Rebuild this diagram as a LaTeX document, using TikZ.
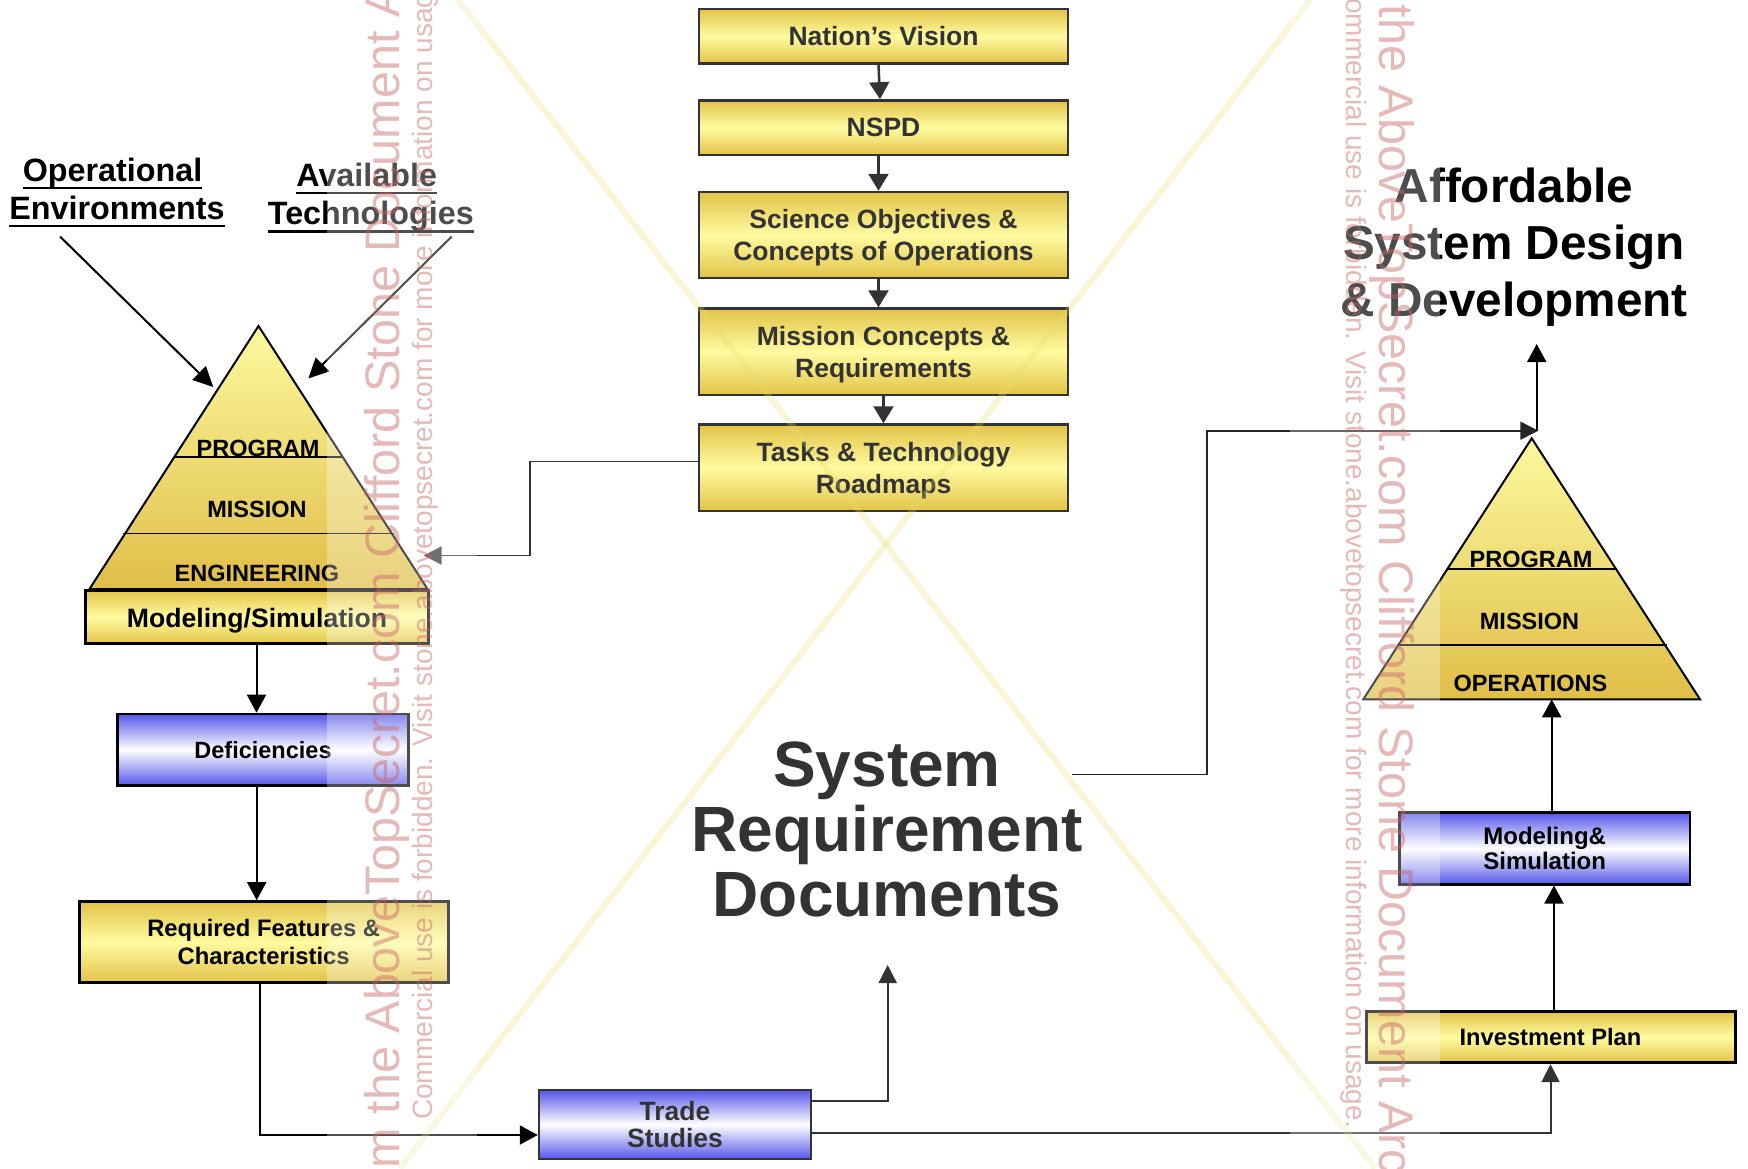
\documentclass[tikz,border=0pt]{standalone}
\usepackage{fontspec}
\setmainfont{Liberation Sans}
\usetikzlibrary{arrows.meta}
\definecolor{gold}{RGB}{226,195,72}
\definecolor{lyel}{RGB}{255,251,160}
\definecolor{pyrtop}{RGB}{252,249,158}
\definecolor{pyrbot}{RGB}{224,190,72}
\definecolor{bblue}{RGB}{86,86,234}
\definecolor{dgray}{RGB}{51,51,51}
\definecolor{wmred}{RGB}{200,100,100}
\definecolor{xyel}{RGB}{232,222,110}
\newcommand\myup[1]{\rule{0pt}{#1}}
\newcommand\mydn[1]{\rule[-#1]{0pt}{#1}}
\begin{document}
\begin{tikzpicture}[x=1pt,y=-1pt,
  cbox/.style={draw=dgray, line width=2.5pt, top color=gold, bottom color=gold, middle color=lyel,
    minimum width=369pt, inner sep=0pt, align=center, text=dgray, font=\bfseries\fontsize{26.5}{32}\selectfont},
  kbox/.style={draw=black, line width=3pt, top color=gold, bottom color=gold, middle color=lyel,
    inner sep=0pt, align=center, text=black},
  bbox/.style={draw=black, line width=2.5pt, top color=bblue, bottom color=bblue, middle color=white,
    inner sep=0pt, align=center, text=black},
  ttl/.style={font=\bfseries\fontsize{32.3}{36}\selectfont, inner sep=0pt, anchor=base},
  pyl/.style={font=\bfseries\fontsize{23.5}{28}\selectfont, inner sep=0pt, anchor=base},
  karr/.style={-{Triangle[length=18pt,width=19pt]}, line width=2pt, draw=black},
  carr/.style={-{Triangle[length=17pt,width=20pt]}, line width=2.5pt, draw=dgray},
  tarr/.style={-{Triangle[length=18pt,width=18pt]}, line width=1.8pt, draw=dgray},
  wm/.style={text=wmred, text opacity=0.45, inner sep=0pt, font=\fontsize{#1}{#1}\selectfont}
]
\useasboundingbox (0,0) rectangle (1748,1168);
\fill[white] (0,0) rectangle (1748,1168);
\clip (0,0) rectangle (1748,1168);

% ---------- left pyramid ----------
\coordinate (la) at (258.5,326);
\coordinate (lr) at (427.5,589);
\coordinate (ll) at (89.5,589);
\shade[top color=pyrtop, bottom color=pyrbot] (la) -- (lr) -- (ll) -- cycle;
\draw[line width=2pt] (la) -- (lr) -- (ll) -- cycle;
\draw[line width=1.5pt] (174,457.2) -- (343,457.2);
\draw[line width=1.5pt] (122.5,533.3) -- (393.5,533.3);
\node[pyl] (lprog) at (258,456) {PROGRAM};
\node[pyl] (lmis) at (257,517.8) {MISSION};
\node[pyl] (leng) at (257,581.3) {ENGINEERING};

% ---------- right pyramid ----------
\coordinate (ra) at (1531.7,438.3);
\coordinate (rr) at (1700,699.3);
\coordinate (rl) at (1363.3,699.3);
\shade[top color=pyrtop, bottom color=pyrbot] (ra) -- (rr) -- (rl) -- cycle;
\draw[line width=2pt] (ra) -- (rr) -- (rl) -- cycle;
\draw[line width=1.5pt] (1448,569) -- (1615,569);
\draw[line width=1.5pt] (1397,645) -- (1667,645);
\node[pyl] (rprog) at (1531,567.3) {PROGRAM};
\node[pyl] (rmis) at (1529.5,629.3) {MISSION};
\node[pyl] (rops) at (1530.5,691.7) {OPERATIONS};

% ---------- central column ----------
\node[cbox, minimum height=54.5pt] (nv) at (883.5,36.3) {Nation’s Vision};
\node[cbox, minimum height=54.6pt] (nspd) at (883.5,127.7) {NSPD};
\node[cbox, minimum height=86pt] (sci) at (883.5,235) {\myup{25pt}Science Objectives \&\\Concepts of Operations\mydn{6pt}};
\node[cbox, minimum height=86.5pt] (mis) at (883.5,351.75) {\myup{25pt}Mission Concepts \&\\Requirements\mydn{6pt}};
\node[cbox, minimum height=86.5pt] (tasks) at (883.5,467.75) {\myup{25pt}Tasks \& Technology\\Roadmaps\mydn{6pt}};

% ---------- left column ----------
\node[ttl] (op1) at (112.5,181) {Operational};
\node[ttl] (op2) at (117,219) {Environments};
\node[ttl] (av1) at (366.7,186) {Available};
\node[ttl] (av2) at (370.8,224.7) {Technologies};
\foreach \n in {op1,op2,av1,av2}
  \draw[line width=2.7pt] ([yshift=-7pt]\n.base west) -- ([yshift=-7pt]\n.base east);

\node[kbox, minimum width=343pt, minimum height=53.5pt, font=\bfseries\fontsize{26.6}{30}\selectfont] (modsim) at (257,617) {\myup{26pt}Modeling/Simulation\mydn{6pt}};
\node[bbox, minimum width=290.6pt, minimum height=71.7pt, font=\bfseries\fontsize{23.5}{28}\selectfont] (defic) at (263,749.8) {Deficiencies};
\node[kbox, minimum width=369.3pt, minimum height=81pt, font=\bfseries\fontsize{23.8}{28.3}\selectfont] (req) at (263.7,942.2) {Required Features \&\\Characteristics};
\node[bbox, draw=dgray, text=dgray, minimum width=272pt, minimum height=69pt, font=\bfseries\fontsize{26.5}{26.7}\selectfont] (trade) at (675,1124.5) {Trade\\Studies};

% ---------- right column ----------
\node[bbox, minimum width=290.7pt, minimum height=71.6pt, font=\bfseries\fontsize{24}{25}\selectfont] (mod2) at (1544.7,848.5) {Modeling\&\\Simulation};
\node[kbox, minimum width=369pt, minimum height=51pt, font=\bfseries\fontsize{23.7}{28}\selectfont] (invest) at (1550.5,1037.2) {Investment Plan};

% ---------- titles ----------
\node[font=\bfseries\fontsize{64}{65}\selectfont, text=dgray, align=center, inner sep=0pt] (srd) at (887,828.5) {\myup{47.5pt}System\\Requirement\\Documents\mydn{2pt}};
\node[font=\bfseries\fontsize{47.7}{57}\selectfont, text=black, align=center, inner sep=0pt] (aff) at (1514,247.2) {\myup{35pt}Affordable\\System Design\\\& Development\mydn{10pt}};

% ---------- connectors ----------
\coordinate (oes) at (60,236.5);
\coordinate (oet) at (213.3,387);
\coordinate (ats) at (451.7,236.5);
\coordinate (att) at (308.3,378.5);
\draw[karr, -{Triangle[length=20pt,width=19pt]}] (oes) -- (oet);
\draw[karr, -{Triangle[length=20pt,width=19pt]}] (ats) -- (att);

\draw[carr] ([xshift=-5pt]nv.south) -- ([xshift=-3.5pt]nspd.north);
\draw[carr] ([xshift=-5pt]nspd.south) -- ([xshift=-5pt]sci.north);
\draw[carr] ([xshift=-5pt]sci.south) -- ([xshift=-5pt]mis.north);
\draw[carr] (mis.south) -- (tasks.north);

\coordinate (lpin) at (423.6,555.5);
\draw[tarr] ([yshift=6.25pt]tasks.west) -- (530,461.5) -- (530,555.5) -- (lpin);

\draw[karr] ([xshift=-0.5pt]modsim.south) -- ([xshift=-0.5pt]modsim.south |- defic.north);
\draw[karr] ([xshift=-6.3pt]defic.south) -- ([xshift=-6.3pt]defic.south |- req.north);
\draw[karr] ([xshift=-4pt]req.south) |- ([yshift=-10.5pt]trade.west);

\coordinate (srdin) at (887.7,965);
\draw[tarr, line width=2pt] ([yshift=23.5pt]trade.east) -| (srdin);
\draw[tarr, line width=2pt] ([yshift=-8.5pt]trade.east) -| (invest.south);

\draw[karr] ([xshift=3.5pt]invest.north) -- ([xshift=3.5pt]invest.north |- mod2.south);
\coordinate (rpbase) at (1551.7,699.3);
\draw[karr] ([xshift=7pt]mod2.north) -- (rpbase);

\coordinate (srdout) at (1072,774.4);
\coordinate (rpapex) at (1538.3,430.7);
\draw[tarr, draw=black!85] (srdout) -- (1206.8,774.4) |- (rpapex);
\coordinate (rptop) at (1536.7,430.7);
\coordinate (affin) at (1536.7,344);
\draw[karr] (rptop) -- (affin);

% ---------- watermark ----------
\draw[xyel, opacity=0.27, line width=6pt] (458,0) -- (1375,1168);
\draw[xyel, opacity=0.27, line width=6pt] (1310,0) -- (400,1168);
\fill[white, opacity=0.3] (327,0) rectangle (477,1168);
\fill[white, opacity=0.3] (1290,0) rectangle (1440,1168);
\node[wm=48.5, rotate=90, anchor=base west] (wl1) at (399,1241) {From the AboveTopSecret.com Clifford Stone Document Archive};
\node[wm=28, rotate=90, anchor=base west] (wl2) at (432,1120) {Commercial use is forbidden. Visit stone.abovetopsecret.com for more information on usage.};
\node[wm=48.5, rotate=-90, anchor=base west] (wr1) at (1379,-122) {From the AboveTopSecret.com Clifford Stone Document Archive};
\node[wm=28, rotate=-90, anchor=base west] (wr2) at (1346.7,-22) {Commercial use is forbidden. Visit stone.abovetopsecret.com for more information on usage.};
\end{tikzpicture}
\end{document}
